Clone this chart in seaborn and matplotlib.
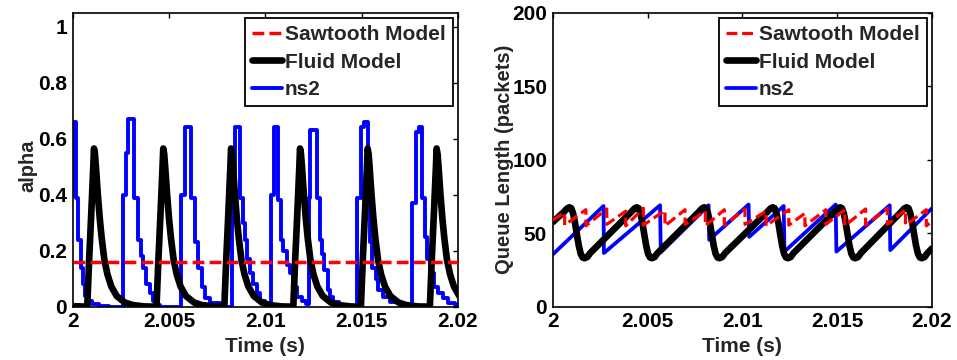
import matplotlib
matplotlib.use("Agg")
import matplotlib.pyplot as plt
import seaborn as sns

T_START = 2.0  # seconds; all time arrays below are in ms after T_START

# ---------------- alpha panel ----------------
sawtooth_alpha = 0.161

fluid_alpha_ms = [
    0.00,
    0.755, 0.855, 0.955, 1.025, 1.075, 1.105, 1.155, 1.205, 1.305, 1.405, 1.505, 1.645, 1.805, 2.005, 2.285, 2.705, 3.105, 3.705,
    4.35, 4.45, 4.55, 4.62, 4.67, 4.70, 4.75, 4.80, 4.90, 5.00, 5.10, 5.24, 5.40, 5.60, 5.88, 6.30, 6.70, 7.30,
    7.87, 7.97, 8.07, 8.14, 8.19, 8.22, 8.27, 8.32, 8.42, 8.52, 8.62, 8.76, 8.92, 9.12, 9.40, 9.82, 10.22, 10.82,
    11.45, 11.55, 11.65, 11.72, 11.77, 11.80, 11.85, 11.90, 12.00, 12.10, 12.20, 12.34, 12.50, 12.70, 12.98, 13.40, 13.80, 14.40,
    14.96, 15.06, 15.16, 15.23, 15.28, 15.31, 15.36, 15.41, 15.51, 15.61, 15.71, 15.85, 16.01, 16.21, 16.49, 16.91, 17.31, 17.91,
    18.54, 18.64, 18.74, 18.81, 18.86, 18.89, 18.94, 18.99, 19.09, 19.19, 19.29, 19.43, 19.59, 19.79, 20.07,
]
fluid_alpha = [
    0.002,
    0.0, 0.17, 0.32, 0.43, 0.51, 0.565, 0.545, 0.50, 0.40, 0.315, 0.245, 0.167, 0.115, 0.072, 0.038, 0.015, 0.006, 0.001,
    0.0, 0.17, 0.32, 0.43, 0.51, 0.565, 0.545, 0.50, 0.40, 0.315, 0.245, 0.167, 0.115, 0.072, 0.038, 0.015, 0.006, 0.001,
    0.0, 0.17, 0.32, 0.43, 0.51, 0.565, 0.545, 0.50, 0.40, 0.315, 0.245, 0.167, 0.115, 0.072, 0.038, 0.015, 0.006, 0.001,
    0.0, 0.17, 0.32, 0.43, 0.51, 0.565, 0.545, 0.50, 0.40, 0.315, 0.245, 0.167, 0.115, 0.072, 0.038, 0.015, 0.006, 0.001,
    0.0, 0.17, 0.32, 0.43, 0.51, 0.565, 0.545, 0.50, 0.40, 0.315, 0.245, 0.167, 0.115, 0.072, 0.038, 0.015, 0.006, 0.001,
    0.0, 0.17, 0.32, 0.43, 0.51, 0.565, 0.545, 0.50, 0.40, 0.315, 0.245, 0.167, 0.115, 0.072, 0.038,
]

ns2_alpha_ms = [
    0.00, 0.03, 0.17, 0.29, 0.41, 0.52, 0.64, 0.82, 1.00, 1.35, 1.90,
    2.63, 2.78, 2.89, 3.18, 3.41, 3.53, 3.67, 3.81, 4.01, 4.19, 4.36, 4.55,
    5.64, 5.82, 6.15, 6.33, 6.52, 6.70, 6.87, 7.13, 7.65,
    8.25, 8.45, 8.70, 8.86, 8.95, 9.05, 9.20, 9.38, 9.55, 9.72, 9.98,
    10.29, 10.47, 10.67, 10.81, 10.93, 11.10, 11.28, 11.45, 11.62, 11.89, 12.10,
    12.27, 12.33, 12.66, 12.83, 12.93, 13.02, 13.27, 13.36, 13.53, 13.80, 14.10,
    14.78, 14.95, 15.12, 15.35, 15.45, 15.55, 15.72, 15.87, 16.13, 16.47, 16.99, 17.40,
    17.63, 17.80, 17.97, 18.15, 18.29, 18.40, 18.55, 18.75, 18.95, 19.20, 19.50, 19.85, 20.00,
]
ns2_alpha = [
    0.40, 0.66, 0.39, 0.24, 0.14, 0.08, 0.04, 0.02, 0.01, 0.004, 0.0,
    0.40, 0.55, 0.67, 0.39, 0.24, 0.18, 0.14, 0.08, 0.05, 0.02, 0.005, 0.0,
    0.40, 0.64, 0.39, 0.23, 0.14, 0.07, 0.03, 0.012, 0.0,
    0.40, 0.64, 0.39, 0.30, 0.24, 0.17, 0.12, 0.08, 0.05, 0.02, 0.0,
    0.40, 0.64, 0.38, 0.24, 0.20, 0.15, 0.12, 0.07, 0.035, 0.02, 0.01,
    0.39, 0.63, 0.39, 0.24, 0.19, 0.13, 0.06, 0.036, 0.018, 0.005, 0.0,
    0.39, 0.64, 0.66, 0.40, 0.23, 0.14, 0.10, 0.06, 0.035, 0.018, 0.006, 0.0,
    0.37, 0.625, 0.64, 0.39, 0.25, 0.17, 0.12, 0.07, 0.05, 0.03, 0.015, 0.005, 0.005,
]

# ---------------- queue panel ----------------
sawtooth_q_ms = [
    0.00, 0.63, 0.63, 1.75, 1.75, 2.85, 2.85, 3.85, 3.85, 4.78, 4.78, 5.92, 5.92,
    6.98, 6.98, 8.05, 8.05, 9.05, 9.05, 10.14, 10.14, 11.25, 11.25, 12.45, 12.45,
    13.30, 13.30, 14.40, 14.40, 15.40, 15.40, 16.50, 16.50, 17.65, 17.65, 18.60, 18.60,
    19.70, 19.70, 20.00,
]
sawtooth_q = [
    59.0, 64.0, 55.5, 66.0, 55.0, 66.5, 56.0, 65.0, 55.0, 67.0, 55.5, 65.5, 55.0,
    66.0, 56.0, 65.0, 55.0, 66.0, 55.5, 66.5, 56.0, 65.0, 55.0, 66.0, 55.5,
    63.5, 55.0, 66.0, 56.0, 66.0, 55.0, 66.5, 55.5, 67.0, 56.0, 66.0, 55.5,
    66.0, 55.0, 58.0,
]

fluid_q_ms = [
    0.00,
    0.577, 0.757, 0.877, 0.977, 1.077, 1.177, 1.277, 1.377, 1.477, 1.577, 1.677, 1.827, 1.977,
    4.13, 4.31, 4.43, 4.53, 4.63, 4.73, 4.83, 4.93, 5.03, 5.13, 5.23, 5.38, 5.53,
    7.69, 7.87, 7.99, 8.09, 8.19, 8.29, 8.39, 8.49, 8.59, 8.69, 8.79, 8.94, 9.09,
    11.30, 11.48, 11.60, 11.70, 11.80, 11.90, 12.00, 12.10, 12.20, 12.30, 12.40, 12.55, 12.70,
    14.85, 15.03, 15.15, 15.25, 15.35, 15.45, 15.55, 15.65, 15.75, 15.85, 15.95, 16.10, 16.25,
    18.36, 18.54, 18.66, 18.76, 18.86, 18.96, 19.06, 19.16, 19.26, 19.36, 19.46, 19.61, 19.76,
    20.00,
]
fluid_q = [
    57.5,
    64.3, 66.8, 67.6, 67.0, 63.5, 57.0, 49.0, 41.5, 36.0, 33.5, 33.0, 33.8, 36.5,
    64.3, 66.8, 67.6, 67.0, 63.5, 57.0, 49.0, 41.5, 36.0, 33.5, 33.0, 33.8, 36.5,
    64.3, 66.8, 67.6, 67.0, 63.5, 57.0, 49.0, 41.5, 36.0, 33.5, 33.0, 33.8, 36.5,
    64.3, 66.8, 67.6, 67.0, 63.5, 57.0, 49.0, 41.5, 36.0, 33.5, 33.0, 33.8, 36.5,
    64.3, 66.8, 67.6, 67.0, 63.5, 57.0, 49.0, 41.5, 36.0, 33.5, 33.0, 33.8, 36.5,
    64.3, 66.8, 67.6, 67.0, 63.5, 57.0, 49.0, 41.5, 36.0, 33.5, 33.0, 33.8, 36.5,
    39.6,
]

ns2_q_ms = [0.00, 2.68, 2.70, 5.66, 5.70, 8.22, 8.25, 10.33, 10.36, 12.18, 12.22,
            14.92, 14.96, 17.77, 17.80, 20.00]
ns2_q = [35.5, 68.5, 36.5, 69.0, 37.0, 69.0, 45.5, 69.5, 47.5, 68.5, 37.5,
         69.5, 37.5, 69.0, 38.5, 67.0]

# ---------------- axes ----------------
x_ticks = [2.0, 2.005, 2.01, 2.015, 2.02]
x_tick_labels = ["2", "2.005", "2.01", "2.015", "2.02"]
alpha_ticks = [0, 0.2, 0.4, 0.6, 0.8, 1.0]
alpha_tick_labels = ["0", "0.2", "0.4", "0.6", "0.8", "1"]
queue_ticks = [0, 50, 100, 150, 200]
queue_tick_labels = ["0", "50", "100", "150", "200"]

labels = ["Sawtooth Model", "Fluid Model", "ns2"]


def to_sec(ms):
    return [T_START + v / 1000.0 for v in ms]


sns.set_style("white")
plt.rcParams["font.family"] = ["Liberation Sans", "DejaVu Sans"]
plt.rcParams["font.weight"] = "bold"
plt.rcParams["font.size"] = 15
plt.rcParams["axes.linewidth"] = 1.2

W, H = 957, 360
fig = plt.figure(figsize=(W / 100, H / 100), dpi=100)
ax1 = fig.add_axes([72.7 / W, 53.3 / H, 385.3 / W, 294 / H])
ax2 = fig.add_axes([552.7 / W, 53.3 / H, 379.3 / W, 294 / H])

RED, BLACK, BLUE = "#ff0000", "#000000", "#0000ff"
dash = (0, (3.4, 1.5))

# alpha panel
sns.lineplot(x=to_sec(ns2_alpha_ms), y=ns2_alpha, ax=ax1, color=BLUE, linewidth=2.8,
             estimator=None, sort=False, drawstyle="steps-post", label=labels[2], zorder=2)
sns.lineplot(x=to_sec(fluid_alpha_ms), y=fluid_alpha, ax=ax1, color=BLACK, linewidth=4.8,
             estimator=None, sort=False, label=labels[1], zorder=3)
sns.lineplot(x=to_sec([0.0, 20.0]), y=[sawtooth_alpha, sawtooth_alpha], ax=ax1, color=RED,
             linewidth=2.5, linestyle=dash, estimator=None, sort=False, label=labels[0], zorder=4)

# queue panel
sns.lineplot(x=to_sec(ns2_q_ms), y=ns2_q, ax=ax2, color=BLUE, linewidth=2.7,
             estimator=None, sort=False, label=labels[2], zorder=2)
sns.lineplot(x=to_sec(fluid_q_ms), y=fluid_q, ax=ax2, color=BLACK, linewidth=4.8,
             estimator=None, sort=False, label=labels[1], zorder=3)
sns.lineplot(x=to_sec(sawtooth_q_ms), y=sawtooth_q, ax=ax2, color=RED, linewidth=2.3,
             linestyle=dash, estimator=None, sort=False, label=labels[0], zorder=4)

for ax, yt, ytl, ylim, ylab, ylab_xy in [
    (ax1, alpha_ticks, alpha_tick_labels, (0, 1.05), "alpha", (-0.116, 0.48)),
    (ax2, queue_ticks, queue_tick_labels, (0, 200), "Queue Length (packets)", (-0.128, 0.5)),
]:
    ax.set_xlim(x_ticks[0], x_ticks[-1])
    ax.set_ylim(*ylim)
    ax.set_xticks(x_ticks)
    ax.set_xticklabels(x_tick_labels)
    ax.set_yticks(yt)
    ax.set_yticklabels(ytl)
    ax.tick_params(direction="in", length=3.6, width=1.0, top=True, right=True,
                   labelsize=15, pad=4, colors="black")
    for s in ax.spines.values():
        s.set_color("black")
        s.set_linewidth(1.2)
    ax.set_xlabel("Time (s)", fontsize=15, fontweight="bold", va="center")
    ax.xaxis.set_label_coords(0.5, -0.134)
    ax.set_ylabel(ylab, fontsize=14.5, fontweight="bold", va="center")
    ax.yaxis.set_label_coords(*ylab_xy)

    handles, labs = ax.get_legend_handles_labels()
    order = [labs.index(l) for l in labels]
    leg = ax.legend([handles[i] for i in order], [labs[i] for i in order],
                    loc="upper right", frameon=True, fancybox=False, framealpha=1,
                    edgecolor="black", fontsize=15, handlelength=1.4,
                    handletextpad=0.15, labelspacing=0.4, borderpad=0.35,
                    borderaxespad=0.25)
    leg.get_frame().set_linewidth(1.3)
    for t in leg.get_texts():
        t.set_fontweight("bold")

fig.savefig("out.png", dpi=100)
